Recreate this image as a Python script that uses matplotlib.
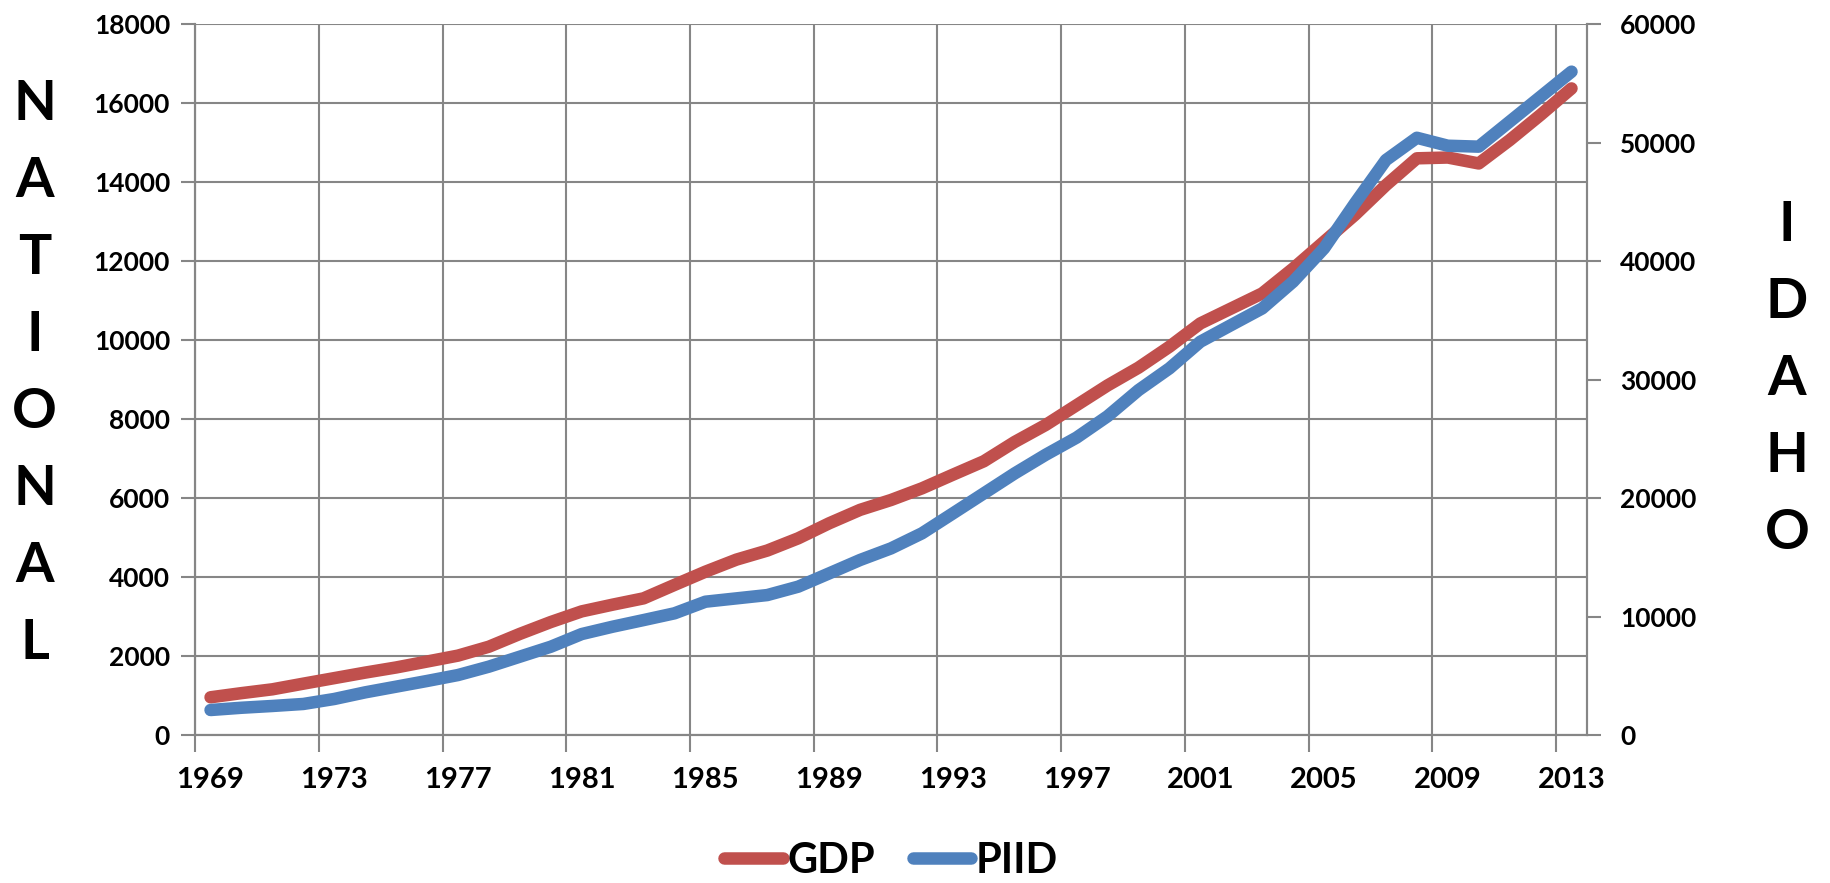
"""National GDP vs Idaho personal income, 1969-2013, on twin y axes."""

import matplotlib
matplotlib.use("Agg")
import matplotlib.pyplot as plt
from matplotlib.ticker import FixedLocator, NullFormatter

plt.rcParams["font.family"] = ["Lato", "DejaVu Sans"]
plt.rcParams["font.weight"] = "bold"

YEARS = list(range(1969, 2014))

# national GDP (left axis)
GDP = [
    955, 1060, 1157, 1300, 1440, 1580, 1710, 1860, 2010, 2236,
    2560, 2860, 3130, 3300, 3460, 3800, 4135, 4440, 4670, 4980,
    5360, 5700, 5950, 6245, 6590, 6930, 7420, 7850, 8350, 8850,
    9300, 9830, 10420, 10800, 11180, 11810, 12490, 13170, 13920, 14600,
    14620, 14470, 15060, 15700, 16370,
]

# Idaho series (right axis)
PIID = [
    2110, 2300, 2450, 2620, 3040, 3600, 4080, 4560, 5060, 5770,
    6610, 7450, 8520, 9140, 9700, 10270, 11250, 11530, 11810, 12520,
    13640, 14770, 15750, 17020, 18700, 20390, 22080, 23650, 25100, 26900,
    29100, 30940, 33190, 34600, 36000, 38260, 41070, 44870, 48520, 50400,
    49730, 49650, 51760, 53870, 55980,
]

LEFT_TICKS = list(range(0, 18001, 2000))
RIGHT_TICKS = list(range(0, 60001, 10000))
LEFT_TITLE = "NATIONAL"
RIGHT_TITLE = "IDAHO"

RED = "#C0504D"
BLUE = "#4F81BD"
GRID = "#868686"


def main():
    fig = plt.figure(figsize=(18.3, 8.83), dpi=100)
    ax = fig.add_axes([0.1066, 0.1676, 0.7606, 0.8052])
    ax2 = ax.twinx()

    x = list(range(len(YEARS)))
    lw = 9
    l1, = ax.plot(x, GDP, color=RED, lw=lw, solid_capstyle="round",
                  solid_joinstyle="round", label="GDP")
    l2, = ax2.plot(x, PIID, color=BLUE, lw=lw, solid_capstyle="round",
                   solid_joinstyle="round", label="PIID")

    # category axis: gridlines sit between categories, labels on every 4th year
    ax.set_xlim(-0.5, len(YEARS) - 0.5)
    ax.xaxis.set_major_locator(FixedLocator([i - 0.5 for i in range(0, len(YEARS), 4)]))
    ax.xaxis.set_major_formatter(NullFormatter())
    ax.xaxis.set_minor_locator(FixedLocator(list(range(0, len(YEARS), 4))))
    ax.set_xticklabels([str(y) for y in YEARS[::4]], minor=True)
    ax.tick_params(axis="x", which="major", direction="out", length=12, width=1.5, color=GRID)
    ax.tick_params(axis="x", which="minor", length=0, pad=23, labelsize=21)

    ax.set_ylim(0, 18000)
    ax.set_yticks(LEFT_TICKS)
    ax.tick_params(axis="y", direction="out", length=10, width=1.5, color=GRID,
                   labelsize=19, pad=8)

    ax2.set_ylim(0, 60000)
    ax2.set_yticks(RIGHT_TICKS)
    ax2.tick_params(axis="y", direction="out", length=10, width=1.5, color=GRID,
                    labelsize=19, pad=14)

    ax.grid(True, which="major", color=GRID, lw=1.5)
    ax.set_axisbelow(True)
    for a in (ax, ax2):
        a.spines["top"].set_visible(False)
        for side in ("left", "right", "bottom"):
            a.spines[side].set_color(GRID)
            a.spines[side].set_linewidth(1.5)
    for lab in ax.get_xticklabels(minor=True) + ax.get_yticklabels() + ax2.get_yticklabels():
        lab.set_fontweight("bold")

    # stacked letters as axis titles
    step = 77 / 883
    y0 = 1 - 104 / 883
    for i, ch in enumerate(LEFT_TITLE):
        fig.text(0.019, y0 - i * step, ch, fontsize=40, fontweight="bold",
                 ha="center", va="center")
    y0 = 1 - 225 / 883
    for i, ch in enumerate(RIGHT_TITLE):
        fig.text(0.9765, y0 - i * step, ch, fontsize=40, fontweight="bold",
                 ha="center", va="center")

    fig.legend([l1, l2], ["GDP", "PIID"], loc="center", bbox_to_anchor=(0.487, 0.025),
               ncol=2, frameon=False, handlelength=1.4, handletextpad=0.12,
               columnspacing=0.9, prop={"size": 30, "weight": "bold"})

    fig.savefig("out.png", dpi=100)


if __name__ == "__main__":
    main()
